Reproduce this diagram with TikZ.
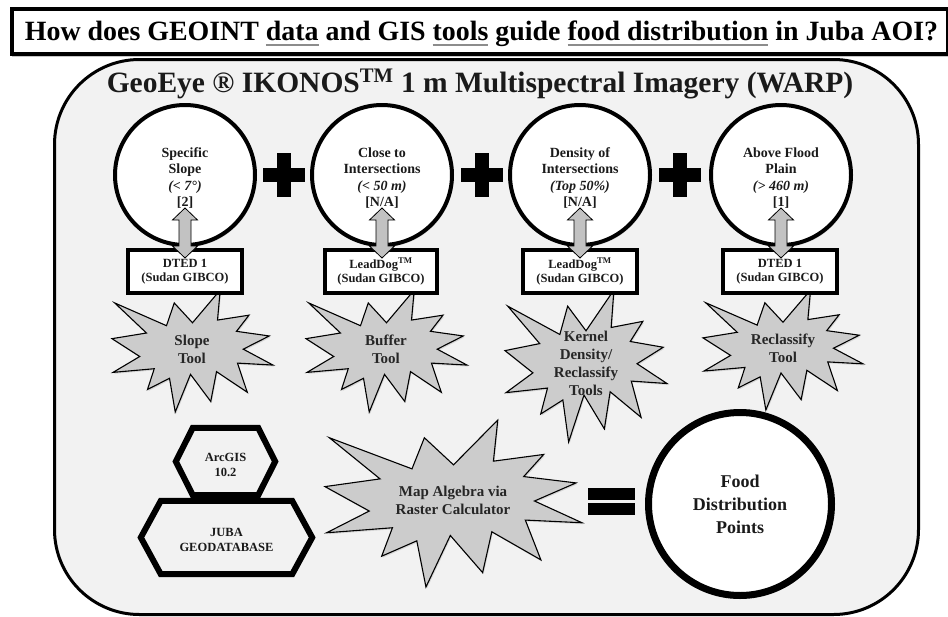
\documentclass[tikz,border=0pt]{standalone}
\usepackage{fontspec}
\setmainfont{Liberation Serif}
\usetikzlibrary{calc,shadows}
\definecolor{panelbg}{HTML}{F2F2F2}
\definecolor{burstgray}{HTML}{CCCCCC}
\definecolor{arrowgray}{HTML}{C2C2C2}
\definecolor{ulgray}{HTML}{8C8C8C}
\definecolor{txt}{HTML}{1A1A1A}
\newcommand\gul[1]{\leavevmode\setbox0\hbox{#1}\rlap{\textcolor{ulgray}{\rule[-5.5pt]{\wd0}{1.8pt}}}\box0\relax}
\newcommand\burstshape[4]{%
  \begin{scope}[shift={(#1,#2)},xscale=#3/100,yscale=#4/100]
  \draw[burst] (50,26.85) -- (67.23,0) -- (65.53,24.65) -- (85.09,20.63) -- (77.32,33.87) -- (97.67,37.67) -- (81.51,48.50) -- (100,61.53) -- (77.95,59.92) -- (84.00,83.77) -- (64.91,66.93) -- (61.33,91.38) -- (48.76,69.14) -- (39.28,100) -- (35.72,72.35) -- (22.05,81.56) -- (26.24,64.52) -- (0.63,67.53) -- (17.23,54.51) -- (0,39.88) -- (21.42,35.26) -- (1.71,10.63) -- (33.85,29.26) -- (38.67,10.63) -- cycle;
  \end{scope}}
\newcommand\dblarrow[2]{%
  \draw[blockarrow] let \p1=(#1), \p2=(#2) in
  (\x1,\y1) -- (\x1+12.5pt,\y1-12pt) -- (\x1+6pt,\y1-12pt) -- (\x1+6pt,\y2+12pt) -- (\x1+12.5pt,\y2+12pt) -- (\x1,\y2) -- (\x1-12.5pt,\y2+12pt) -- (\x1-6pt,\y2+12pt) -- (\x1-6pt,\y1-12pt) -- (\x1-12.5pt,\y1-12pt) -- cycle;}
\newcommand\hexa[2]{%
  \draw[hexline] (#1.west) -- ($(#1.north west)+(#2,0)$) -- ($(#1.north east)+(-#2,0)$) -- (#1.east) -- ($(#1.south east)+(-#2,0)$) -- ($(#1.south west)+(#2,0)$) -- cycle;}
\tikzset{
  titlebox/.style={draw, line width=3.5pt, fill=white, inner sep=0pt,
    drop shadow={opacity=0.45, shadow xshift=0pt, shadow yshift=-3pt}},
  panel/.style={draw, line width=3pt, fill=panelbg, inner sep=0pt},
  headtext/.style={font=\fontsize{29.5}{33}\selectfont\bfseries, text=txt, inner sep=0pt},
  crit/.style={circle, draw, line width=4pt, fill=white, minimum size=140pt, inner sep=0pt,
    drop shadow={opacity=0.3, shadow xshift=1.5pt, shadow yshift=-2pt}},
  crittext/.style={align=center, text=txt, inner sep=0pt, font=\fontsize{14}{16.5}\selectfont\bfseries},
  srcbox/.style={draw, line width=4pt, fill=white, minimum height=43pt, inner sep=0pt,
    align=center, text=txt, font=\fontsize{12.5}{14}\selectfont\bfseries,
    drop shadow={opacity=0.3, shadow xshift=1.5pt, shadow yshift=-2pt}},
  burst/.style={draw, line width=1.1pt, fill=burstgray, line join=miter,
    drop shadow={opacity=0.25, shadow xshift=1pt, shadow yshift=-1.5pt}},
  bursttext/.style={align=center, text=black!85, inner sep=0pt, font=\fontsize{15}{18}\selectfont\bfseries},
  blockarrow/.style={draw, line width=0.8pt, fill=arrowgray, line join=miter},
  hexline/.style={draw, line width=6pt, fill=panelbg, line join=miter,
    drop shadow={opacity=0.4, shadow xshift=2pt, shadow yshift=-2.5pt}},
  hextext/.style={align=center, text=txt, inner sep=0pt, font=\fontsize{12.5}{15}\selectfont\bfseries},
  food/.style={circle, draw, line width=7pt, fill=white, minimum size=183pt, inner sep=0pt,
    align=center, text=txt, font=\fontsize{18}{23}\selectfont\bfseries,
    drop shadow={opacity=0.3, shadow xshift=2pt, shadow yshift=-2.5pt}},
  plusbar/.style={fill=black}
}
\begin{document}
\begin{tikzpicture}[x=1pt,y=-1pt]
\useasboundingbox (0,0) rectangle (948,616);
% title
\node[titlebox, minimum width=936pt, minimum height=45pt, anchor=north west] (title) at (10,7) {};
\node[anchor=base, inner sep=0pt, text=black, font=\fontsize{27.9}{30}\selectfont\bfseries] (titletext) at (481.5,40)
  {How does GEOINT \gul{data} and GIS \gul{tools} guide \gul{food distribution} in Juba AOI?};
% panel
\node[panel, minimum width=864pt, minimum height=555pt, anchor=north west, rounded corners=85pt] (panel) at (53,58) {};
\node[headtext, anchor=base] (head) at (480,92) {GeoEye ® IKONOS\textsuperscript{TM} 1 m Multispectral Imagery (WARP)};
% criteria circles
\node[crit] (c1) at (185,175) {};
\node[crit] (c2) at (382,175) {};
\node[crit] (c3) at (580,175) {};
\node[crit] (c4) at (781,175) {};
\node[crittext] (c1t) at (185,178) {Specific\\Slope\\\textit{(< 7°)}\\{[2]}};
\node[crittext] (c2t) at (382,178) {Close to\\Intersections\\\textit{(< 50 m)}\\{[N/A]}};
\node[crittext] (c3t) at (580,178) {Density of\\Intersections\\\textit{(Top 50\%)}\\{[N/A]}};
\node[crittext] (c4t) at (781,178) {Above Flood\\Plain\\\textit{(> 460 m)}\\{[1]}};
% plus signs
\foreach \px in {284,482,680}{
  \fill[plusbar] (\px-7,153) rectangle (\px+7,197);
  \fill[plusbar] (\px-21,168) rectangle (\px+21,182);
}
% bursts (tools)
\burstshape{112}{290}{161}{122}
\node[bursttext] (t1) at (192,349) {Slope\\Tool};
\burstshape{306}{290}{161}{122}
\node[bursttext] (t2) at (386,349) {Buffer\\Tool};
\burstshape{505}{290}{162}{152}
\node[bursttext] (t3) at (586,363) {Kernel\\Density/\\Reclassify\\Tools};
\burstshape{703}{290}{160}{120}
\node[bursttext] (t4) at (783,348) {Reclassify\\Tool};
\burstshape{325}{420}{257}{167}
\node[bursttext] (t5) at (453,500) {Map Algebra via\\Raster Calculator};
% source boxes
\node[srcbox, minimum width=114pt] (b1) at (185,271.5) {DTED 1\\(Sudan GIBCO)};
\node[srcbox, minimum width=112pt] (b2) at (381,271.5) {LeadDog\textsuperscript{TM}\\(Sudan GIBCO)};
\node[srcbox, minimum width=114pt] (b3) at (580,271.5) {LeadDog\textsuperscript{TM}\\(Sudan GIBCO)};
\node[srcbox, minimum width=114pt] (b4) at (780,271.5) {DTED 1\\(Sudan GIBCO)};
% double arrows
\foreach \i in {1,2,3,4}{
  \coordinate (a\i t) at ($(c\i.south)+(0,-39)$);
  \coordinate (a\i b) at ($(b\i.north)+(0,10)$);
}
\dblarrow{a1t}{a1b}
\dblarrow{a2t}{a2b}
\dblarrow{a3t}{a3b}
\dblarrow{a4t}{a4b}
% hexagons
\node[hextext, minimum width=99pt, minimum height=67pt] (arc) at (225.5,461.5) {};
\hexa{arc}{17}
\node[hextext] (arctext) at (225.5,465) {ArcGIS\\10.2};
\node[hextext, minimum width=171pt, minimum height=73pt] (jdb) at (226.5,537.5) {};
\hexa{jdb}{20}
\node[hextext] (jdbtext) at (226.5,540) {JUBA\\GEODATABASE};
% equals
\fill (588,488) rectangle (635,500);
\fill (588,503) rectangle (635,515);
% result
\node[food] (food) at (740,504) {Food\\Distribution\\Points};
\end{tikzpicture}
\end{document}
